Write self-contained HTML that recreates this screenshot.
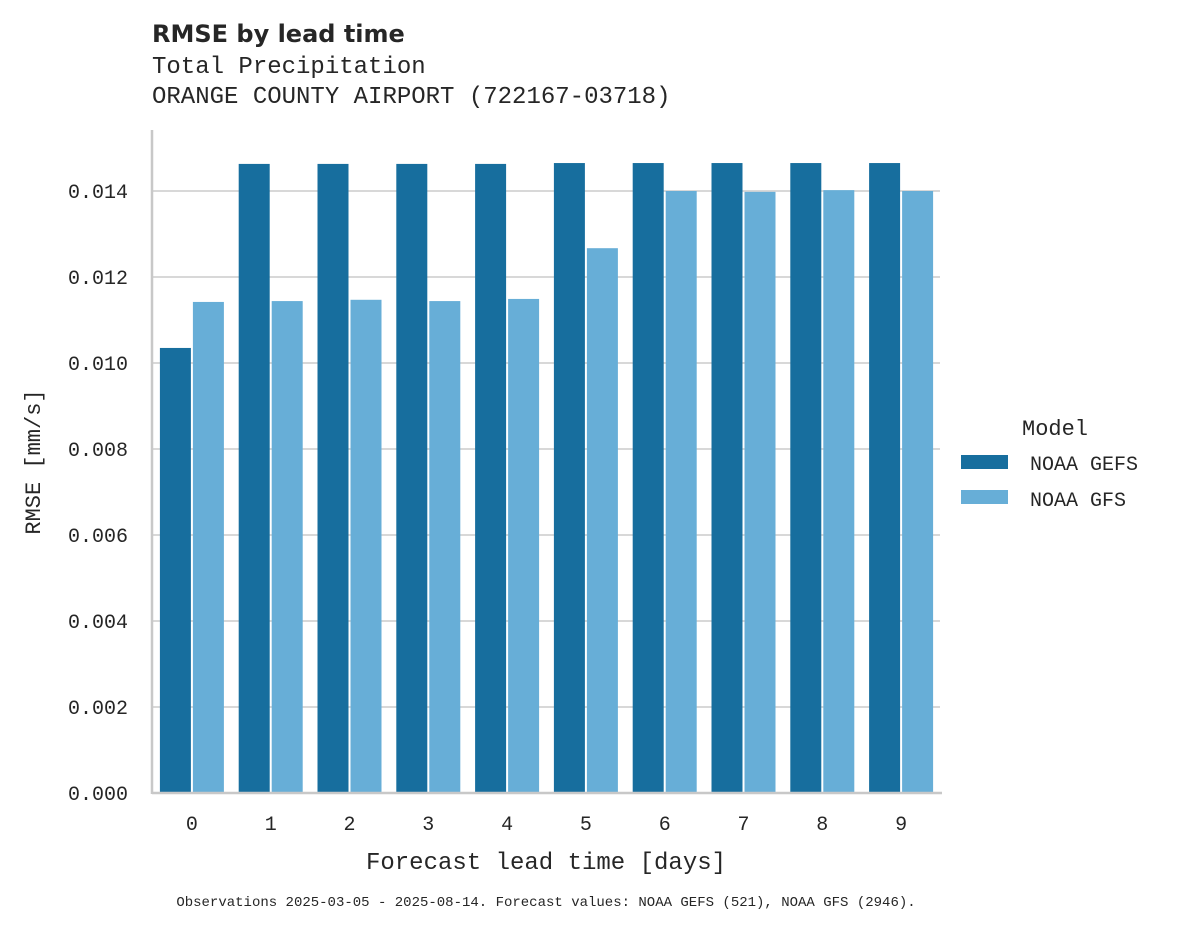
<!DOCTYPE html>
<html><head><meta charset="utf-8"><style>
body{margin:0;background:#fff}
svg text{fill:#262626}
.m{font-family:"Liberation Mono","DejaVu Sans Mono",monospace}
</style></head><body>
<svg id="c" width="1182" height="928" xmlns="http://www.w3.org/2000/svg">
<text x="152" y="42" font-family="DejaVu Sans,Liberation Sans,sans-serif" font-weight="bold" font-size="24">RMSE by lead time</text>
<text class="m" x="152" y="73" font-size="24">Total Precipitation</text>
<text class="m" x="152" y="103" font-size="24">ORANGE COUNTY AIRPORT (722167-03718)</text>
<g id="grid"></g><g id="bars"></g><g id="axes"></g>
<text class="m" x="546" y="869" font-size="24" text-anchor="middle">Forecast lead time [days]</text>
<text class="m" transform="translate(40,462) rotate(-90)" font-size="22" text-anchor="middle">RMSE [mm/s]</text>
<g>
<text class="m" x="1022" y="435" font-size="22">Model</text>
<rect x="961" y="455" width="47" height="14" fill="#176e9e"/>
<text class="m" x="1030" y="470" font-size="20">NOAA GEFS</text>
<rect x="961" y="490" width="47" height="14" fill="#67aed7"/>
<text class="m" x="1030" y="506" font-size="20">NOAA GFS</text>
</g>
<text class="m" x="546" y="906" font-size="14" text-anchor="middle">Observations 2025-03-05 - 2025-08-14. Forecast values: NOAA GEFS (521), NOAA GFS (2946).</text>
</svg>
<script>
const categories=["0","1","2","3","4","5","6","7","8","9"];
const gefs=[0.01035,0.01463,0.01463,0.01463,0.01463,0.01465,0.01465,0.01465,0.01465,0.01465];
const gfs=[0.01142,0.01144,0.01147,0.01144,0.01149,0.01267,0.01400,0.01398,0.01402,0.01400];
const yTicks=[0,0.002,0.004,0.006,0.008,0.010,0.012,0.014];
const yTickLabels=["0.000","0.002","0.004","0.006","0.008","0.010","0.012","0.014"];
const NS="http://www.w3.org/2000/svg";
const x0=152,x1=940,yb=793,yt=130;
const y=v=>yb-v*43000;
const band=(x1-x0)/categories.length;
const xc=i=>x0+band*(i+0.5)+0.5;
function mk(t,a,p){const e=document.createElementNS(NS,t);for(const k in a)e.setAttribute(k,a[k]);p.appendChild(e);return e;}
const G=document.getElementById('grid'),B=document.getElementById('bars'),A=document.getElementById('axes');
yTicks.forEach((v,i)=>{
 const l=mk('line',{x1:x0,x2:x1,y1:y(v),y2:y(v),stroke:'#cccccc','stroke-width':1.5},G);
 
 
 const t=mk('text',{x:128,y:y(v)+7,'font-size':20,'text-anchor':'end',class:'m'},A);
 t.textContent=yTickLabels[i];
 
 
});
categories.forEach((c,i)=>{
 const r1=mk('rect',{x:xc(i)-32,y:y(gefs[i]),width:31,height:yb-y(gefs[i]),fill:'#176e9e'},B);
 
 
 const r2=mk('rect',{x:xc(i)+1,y:y(gfs[i]),width:31,height:yb-y(gfs[i]),fill:'#67aed7'},B);
 
 
 const t=mk('text',{x:xc(i),y:830,'font-size':20,'text-anchor':'middle',class:'m'},A);
 t.textContent=c;
 
 
});
const s1=mk('line',{x1:x0,x2:x0,y1:yt,y2:yb+1,stroke:'#c8c8c8','stroke-width':2.5},A);


const s2=mk('line',{x1:x0,x2:x1+2,y1:yb,y2:yb,stroke:'#c8c8c8','stroke-width':2.5},A);


</script>
</body></html>
